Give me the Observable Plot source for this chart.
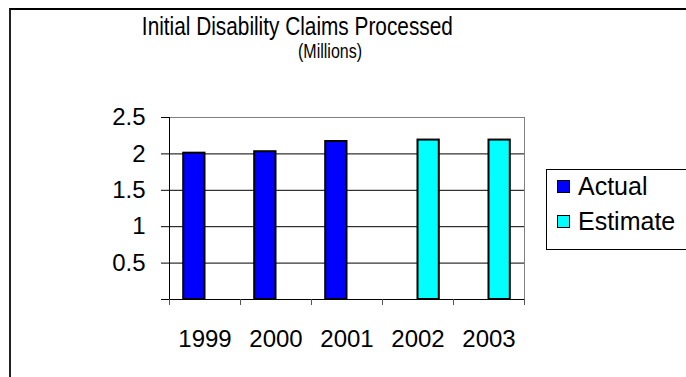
<!DOCTYPE html>
<html>
<head>
<meta charset="utf-8">
<script src="https://cdn.jsdelivr.net/npm/d3@7"></script>
<script src="https://cdn.jsdelivr.net/npm/@observablehq/plot@0.6"></script>
<style>
  html, body { margin: 0; padding: 0; background: #fff; overflow: hidden; }
  #chart { position: relative; width: 686px; height: 377px; overflow: hidden;
           font-family: "Liberation Sans", Arial, sans-serif; color: #000; }
  #outline { position: absolute; left: 9px; top: 8px; width: 760px; height: 420px;
             border-left: 2px solid #222; border-top: 2px solid #000; }
  #title { position: absolute; left: 0; width: 594px; top: 13px; text-align: center;
           font-size: 26px; line-height: 26px; white-space: nowrap; }
  #subtitle { position: absolute; left: 0; width: 660px; top: 41px; text-align: center;
              font-size: 20px; line-height: 20px; white-space: nowrap; }
  .narrow { display: inline-block; transform: scaleX(0.8); transform-origin: 50% 50%; }
  #plot { position: absolute; left: 0; top: 95px; }
  #legend { position: absolute; left: 546px; top: 169px; width: 200px; height: 81px;
            border: 1px solid #000; box-sizing: border-box; }
  .item { position: absolute; left: 10px; display: flex; align-items: center;
          font-size: 25px; line-height: 25px; }
  .swatch { width: 13px; height: 13px; border: 1px solid #000; box-sizing: border-box;
            margin-right: 8px; }
</style>
</head>
<body>
<div id="chart">
  <div id="outline"></div>
  <div id="title"><span class="narrow">Initial Disability Claims Processed</span></div>
  <div id="subtitle"><span class="narrow">(Millions)</span></div>
  <div id="plot"></div>
  <div id="legend"></div>
</div>
<script>
// Initial disability claims processed, in millions
const years = [1999, 2000, 2001, 2002, 2003];
const claims = [2.01, 2.03, 2.17, 2.19, 2.19];
const kinds = ["Actual", "Actual", "Actual", "Estimate", "Estimate"];

const seriesNames = ["Actual", "Estimate"];
const seriesColors = ["#0000ff", "#00ffff"];

const yTicks = [0, 0.5, 1, 1.5, 2, 2.5];
const yGrid = [0.5, 1, 1.5, 2];

const rows = years.map((year, i) => ({year, value: claims[i], kind: kinds[i]}));

// clustered layout: each year holds one slot per series, bars sit side by side around the year
const barWidth = 0.3;
const slotStart = (d) => d.year + (seriesNames.indexOf(d.kind) - 1) * barWidth;

// category boundaries carry the small x ticks
const bounds = [years[0] - 0.5, ...years.map((y) => y + 0.5)];

const fontFamily = "Liberation Sans, Arial, sans-serif";

const plot = Plot.plot({
  width: 686,
  height: 282,
  marginLeft: 169,
  marginRight: 162,
  marginTop: 22,
  marginBottom: 78,
  style: {fontFamily, background: "transparent", color: "#000"},
  x: {domain: [bounds[0], bounds[bounds.length - 1]], axis: null},
  y: {domain: [0, 2.5], axis: null},
  color: {domain: seriesNames, range: seriesColors},
  marks: [
    Plot.gridY(yGrid, {stroke: "#000", strokeOpacity: 1}),
    Plot.ruleY([yTicks[yTicks.length - 1]], {stroke: "#808080"}),
    Plot.ruleX([bounds[bounds.length - 1]], {stroke: "#808080"}),
    Plot.rectY(rows, {
      x1: slotStart,
      x2: (d) => slotStart(d) + barWidth,
      y: "value",
      fill: "kind",
      stroke: "#000",
      strokeWidth: 2
    }),
    Plot.ruleX([bounds[0]], {stroke: "#000"}),
    Plot.ruleY([0], {stroke: "#000"}),
    Plot.axisY(yTicks, {
      label: null,
      tickSize: 8,
      tickPadding: 16,
      fontSize: 24,
      stroke: "#000",
      tickFormat: (d) => (d === 0 ? "" : String(d))
    }),
    Plot.axisX(bounds, {label: null, tickSize: 6, stroke: "#555", tickFormat: () => ""}),
    Plot.axisX(years, {label: null, tickSize: 0, tickPadding: 30, fontSize: 24, tickFormat: (d) => String(d)})
  ]
});
document.getElementById("plot").appendChild(plot);

// legend entries built from the same series and colours
const legend = document.getElementById("legend");
seriesNames.forEach((name, i) => {
  const item = document.createElement("div");
  item.className = "item";
  item.style.top = (4 + i * 35) + "px";
  const sw = document.createElement("span");
  sw.className = "swatch";
  sw.style.background = seriesColors[i];
  const label = document.createElement("span");
  label.textContent = name;
  item.appendChild(sw);
  item.appendChild(label);
  legend.appendChild(item);
});
</script>
</body>
</html>
